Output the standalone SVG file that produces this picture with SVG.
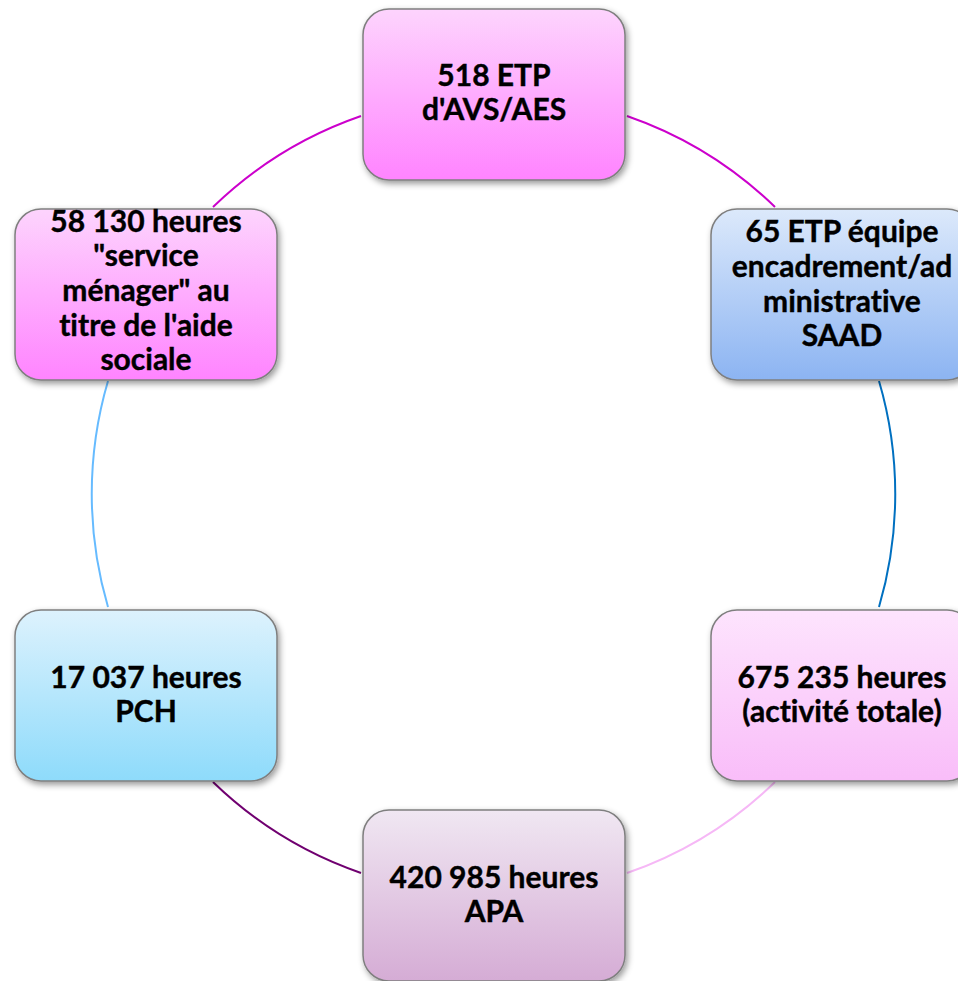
<svg xmlns="http://www.w3.org/2000/svg" width="958" height="981" viewBox="0 0 958 981">
<defs>
<linearGradient id="gMag" x1="0" y1="0" x2="0" y2="1"><stop offset="0" stop-color="#fdd4fd"/><stop offset="1" stop-color="#ff84ff"/></linearGradient>
<linearGradient id="gBlue" x1="0" y1="0" x2="0" y2="1"><stop offset="0" stop-color="#dce9fb"/><stop offset="1" stop-color="#8cb4f2"/></linearGradient>
<linearGradient id="gPink" x1="0" y1="0" x2="0" y2="1"><stop offset="0" stop-color="#fde4fd"/><stop offset="1" stop-color="#f9bdf9"/></linearGradient>
<linearGradient id="gMauve" x1="0" y1="0" x2="0" y2="1"><stop offset="0" stop-color="#f0e7f2"/><stop offset="1" stop-color="#d5acd5"/></linearGradient>
<linearGradient id="gCyan" x1="0" y1="0" x2="0" y2="1"><stop offset="0" stop-color="#ddf2fd"/><stop offset="1" stop-color="#8edbfb"/></linearGradient>
<filter id="sh" x="-10%" y="-10%" width="125%" height="130%"><feDropShadow dx="2" dy="3" stdDeviation="3" flood-color="#000" flood-opacity="0.4"/></filter>
</defs>
<style>
.box{stroke:#7f7f7f;stroke-width:1.5;filter:url(#sh)}
.t{font-family:Lato,"Open Sans","Liberation Sans",sans-serif;font-weight:bold;font-size:30px;fill:#000;text-anchor:middle;font-variant-ligatures:none;stroke:#000;stroke-width:0.4}
.arc{fill:none;stroke-width:2}
</style>
<g id="connectors">
<path class="arc" d="M 361 116 A 401 401 0 0 0 213 207" stroke="#cc00cc"/>
<path class="arc" d="M 627 116 A 401 401 0 0 1 775 207" stroke="#cc00cc"/>
<path class="arc" d="M 879 381 A 401 401 0 0 1 879 607" stroke="#0070c0"/>
<path class="arc" d="M 775 782 A 401 401 0 0 1 627 873" stroke="#f6b8f6"/>
<path class="arc" d="M 361 873 A 401 401 0 0 1 213 782" stroke="#700070"/>
<path class="arc" d="M 108 607 A 401 401 0 0 1 108 381" stroke="#66bbff"/>
</g>
<g id="n1">
<rect class="box" x="363" y="9" width="262" height="171" rx="26" fill="url(#gMag)"/>
<text class="t" x="494" y="86">518 ETP</text>
<text class="t" x="494" y="120">d'AVS/AES</text>
</g>
<g id="n2">
<rect class="box" x="711" y="209" width="262" height="171" rx="26" fill="url(#gBlue)"/>
<text class="t" x="842" y="242">65 ETP équipe</text>
<text class="t" x="842" y="277">encadrement/ad</text>
<text class="t" x="842" y="312">ministrative</text>
<text class="t" x="842" y="346">SAAD</text>
</g>
<g id="n3">
<rect class="box" x="711" y="610" width="262" height="171" rx="26" fill="url(#gPink)"/>
<text class="t" x="842" y="688">675 235 heures</text>
<text class="t" x="842" y="722">(activité totale)</text>
</g>
<g id="n4">
<rect class="box" x="363" y="810" width="262" height="171" rx="26" fill="url(#gMauve)"/>
<text class="t" x="494" y="888">420 985 heures</text>
<text class="t" x="494" y="922">APA</text>
</g>
<g id="n5">
<rect class="box" x="15" y="610" width="262" height="171" rx="26" fill="url(#gCyan)"/>
<text class="t" x="146" y="688">17 037 heures</text>
<text class="t" x="146" y="722">PCH</text>
</g>
<g id="n6">
<rect class="box" x="15" y="209" width="262" height="171" rx="26" fill="url(#gMag)"/>
<text class="t" x="146" y="232">58 130 heures</text>
<text class="t" x="146" y="266">"service</text>
<text class="t" x="146" y="301">ménager" au</text>
<text class="t" x="146" y="336">titre de l'aide</text>
<text class="t" x="146" y="370">sociale</text>
</g>
</svg>
